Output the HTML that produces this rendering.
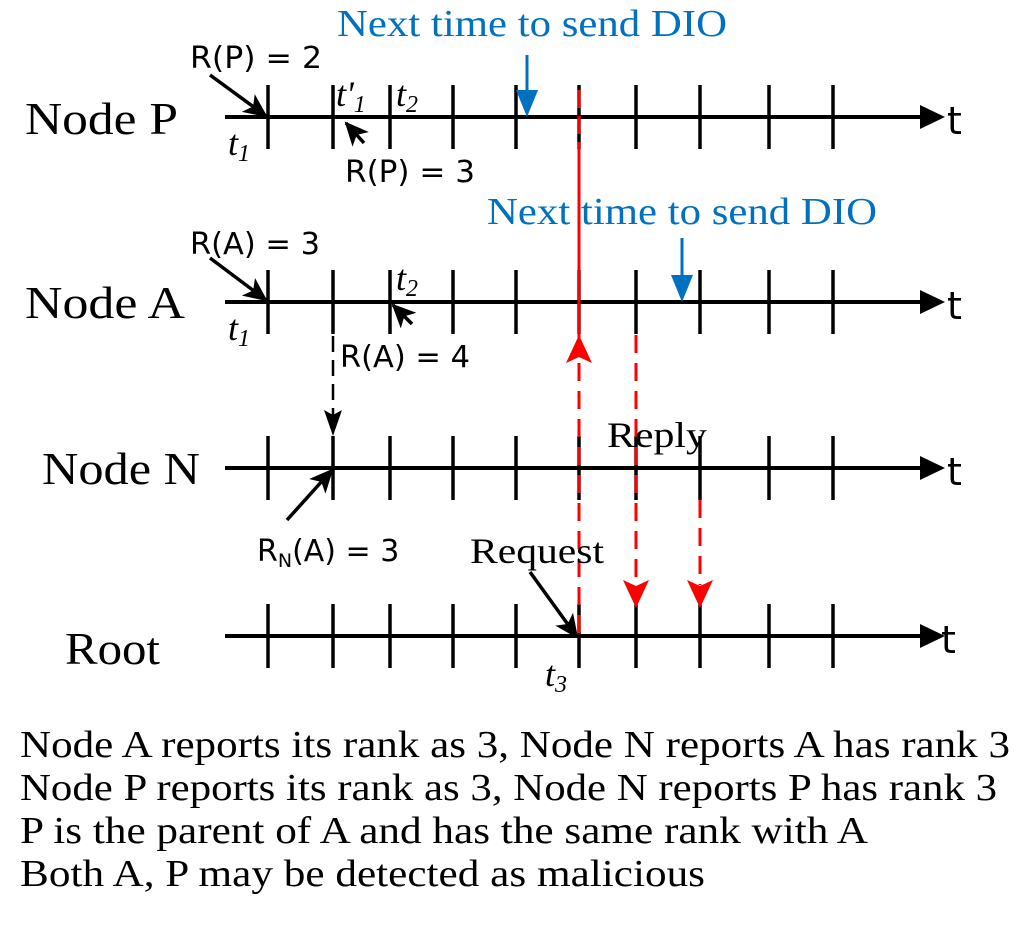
<!DOCTYPE html>
<html><head><style>body{margin:0;background:#fff}svg{display:block}</style></head><body>
<svg width="1024" height="933" viewBox="0 0 1024 933" xmlns="http://www.w3.org/2000/svg">
<defs>
<marker id="ab" markerWidth="24" markerHeight="22" refX="22" refY="11" orient="auto" markerUnits="userSpaceOnUse" viewBox="0 0 24 22"><path d="M0,0 L24,11 L0,22 L6,11z" fill="#000"/></marker>
</defs>
<g stroke="#000" stroke-width="4" fill="none">
<line x1="225" y1="117" x2="925" y2="117"/>
<line x1="225" y1="302" x2="925" y2="302"/>
<line x1="225" y1="468" x2="925" y2="468"/>
<line x1="225" y1="636" x2="925" y2="636"/>
</g>
<g fill="#000">
<path d="M920,105 L945,117 L920,129z"/>
<path d="M920,290 L945,302 L920,314z"/>
<path d="M920,456 L945,468 L920,480z"/>
<path d="M920,624 L945,636 L920,648z"/>
</g>
<g stroke="#000" stroke-width="3.5">
<path d="M268 85V149M333 85V149M390 85V149M453 85V149M516 85V149M579 85V149M636 85V149M700 85V149M769 85V149M833 85V149"/>
<path d="M268 270V334M333 270V334M390 270V334M453 270V334M516 270V334M579 270V334M636 270V334M700 270V334M769 270V334M833 270V334"/>
<path d="M268 436V500M333 436V500M390 436V500M453 436V500M516 436V500M579 436V500M636 436V500M700 436V500M769 436V500M833 436V500"/>
<path d="M268 604V668M333 604V668M390 604V668M453 604V668M516 604V668M579 604V668M636 604V668M700 604V668M769 604V668M833 604V668"/>
</g>
<g stroke="#f00" stroke-width="3" fill="none">
<line x1="579" y1="90" x2="579" y2="150" stroke-dasharray="18,8"/>
<line x1="579" y1="150" x2="579" y2="340"/>
<line x1="579" y1="363" x2="579" y2="636" stroke-dasharray="18,10"/>
<line x1="636" y1="335" x2="636" y2="585" stroke-dasharray="18,10"/>
<line x1="700" y1="500" x2="700" y2="585" stroke-dasharray="18,10"/>
</g>
<g fill="#f00">
<path d="M566,363 L579,335 L592,363 L579,357z"/>
<path d="M623,580 L636,608 L649,580 L636,586z"/>
<path d="M687,580 L700,608 L713,580 L700,586z"/>
</g>
<line x1="333" y1="336" x2="333" y2="415" stroke="#000" stroke-width="2.5" stroke-dasharray="16,8"/>
<path d="M324,410 L333,436 L342,410 L333,415z" fill="#000"/>
<g stroke="#0070c0" stroke-width="3"><line x1="527" y1="55" x2="527" y2="100"/><line x1="682" y1="238" x2="682" y2="285"/></g>
<g fill="#0070c0"><path d="M516,90 L527,117 L538,90z"/><path d="M671,275 L682,302 L693,275z"/></g>
<g stroke="#000" stroke-width="3.5" marker-end="url(#ab)" fill="none">
<line x1="210" y1="75" x2="266" y2="116"/>
<line x1="210" y1="258" x2="266" y2="300"/>
<line x1="364" y1="143" x2="346" y2="123"/>
<line x1="412" y1="324" x2="393" y2="305"/>
<line x1="287" y1="520" x2="332" y2="470"/>
<line x1="530" y1="572" x2="577" y2="637"/>
</g>
<g font-family="Liberation Serif, serif" fill="#000">
<text x="25" y="134" font-size="46" textLength="153" lengthAdjust="spacingAndGlyphs">Node P</text>
<text x="25" y="318" font-size="46" textLength="160" lengthAdjust="spacingAndGlyphs">Node A</text>
<text x="42" y="484" font-size="46" textLength="158" lengthAdjust="spacingAndGlyphs">Node N</text>
<text x="65" y="664" font-size="46" textLength="95" lengthAdjust="spacingAndGlyphs">Root</text>
<text x="607" y="447" font-size="36" textLength="100" lengthAdjust="spacingAndGlyphs">Reply</text>
<text x="470" y="563" font-size="36" textLength="134" lengthAdjust="spacingAndGlyphs">Request</text>
<g font-style="italic" font-size="36">
<text x="228" y="155">t<tspan font-size="24" dy="6">1</tspan></text>
<text x="336" y="106">t'<tspan font-size="24" dy="6">1</tspan></text>
<text x="396" y="106">t<tspan font-size="24" dy="6">2</tspan></text>
<text x="228" y="340">t<tspan font-size="24" dy="6">1</tspan></text>
<text x="396" y="290">t<tspan font-size="24" dy="6">2</tspan></text>
<text x="545" y="686">t<tspan font-size="24" dy="6">3</tspan></text>
</g>
<g font-size="38">
<text x="20" y="757" textLength="990" lengthAdjust="spacingAndGlyphs">Node A reports its rank as 3, Node N reports A has rank 3</text>
<text x="20" y="800" textLength="977" lengthAdjust="spacingAndGlyphs">Node P reports its rank as 3, Node N reports P has rank 3</text>
<text x="20" y="843" textLength="848" lengthAdjust="spacingAndGlyphs">P is the parent of A and has the same rank with A</text>
<text x="20" y="886" textLength="685" lengthAdjust="spacingAndGlyphs">Both A, P may be detected as malicious</text>
</g>
</g>
<g font-family="Liberation Serif, serif" fill="#0070c0" font-size="38">
<text x="337" y="36" textLength="390" lengthAdjust="spacingAndGlyphs">Next time to send DIO</text>
<text x="487" y="224" textLength="390" lengthAdjust="spacingAndGlyphs">Next time to send DIO</text>
</g>
<g font-family="DejaVu Sans, Liberation Sans, sans-serif" fill="#000" font-size="30">
<text x="190" y="68" textLength="132" lengthAdjust="spacingAndGlyphs">R(P) = 2</text>
<text x="345" y="182" textLength="130" lengthAdjust="spacingAndGlyphs">R(P) = 3</text>
<text x="190" y="254" textLength="130" lengthAdjust="spacingAndGlyphs">R(A) = 3</text>
<text x="340" y="367" textLength="130" lengthAdjust="spacingAndGlyphs">R(A) = 4</text>
<text x="257" y="561">R<tspan font-size="19" dy="6">N</tspan><tspan dy="-6">(A) = 3</tspan></text>
<text x="947" y="134" font-size="38">t</text>
<text x="947" y="319" font-size="38">t</text>
<text x="947" y="485" font-size="38">t</text>
<text x="941" y="653" font-size="38">t</text>
</g>
</svg>
</body></html>
